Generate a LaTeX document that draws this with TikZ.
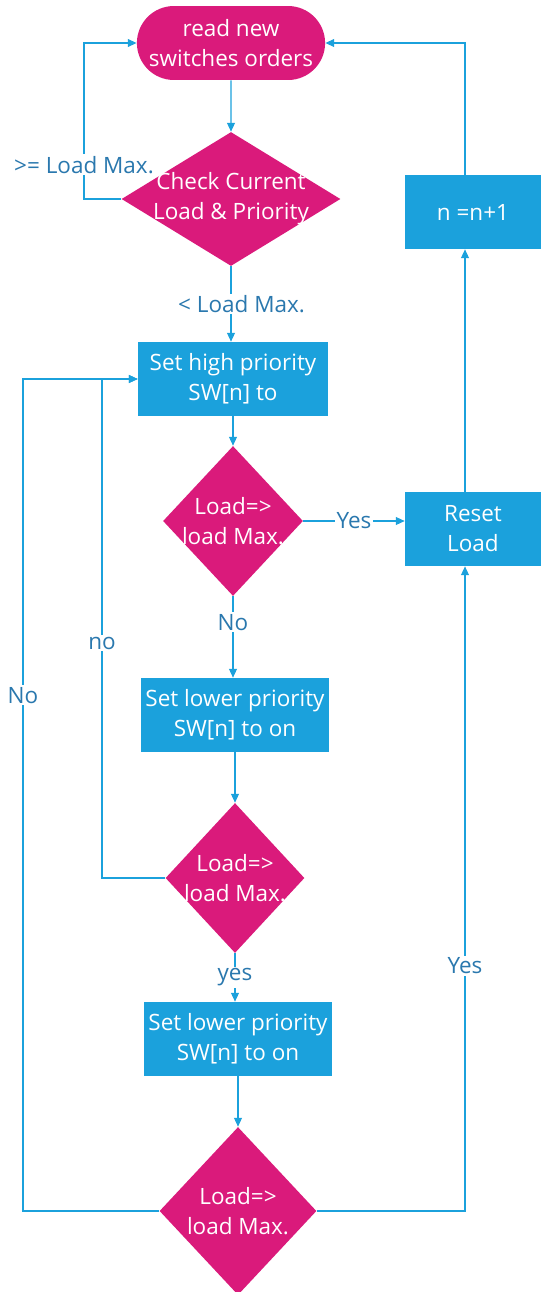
\documentclass[tikz,border=0pt]{standalone}
\usepackage{fontspec}
\setmainfont{Open Sans}
\usetikzlibrary{shapes.geometric,shapes.misc,arrows.meta}
\definecolor{mag}{HTML}{DA1A7B}
\definecolor{sky}{HTML}{1BA1DC}
\definecolor{lbl}{HTML}{2A78AE}
\tikzset{
  every node/.style={font=\fontsize{12.8}{17}\selectfont},
  terminal/.style={rounded rectangle, fill=mag, text=white, align=center, minimum width=3.6cm, minimum height=1.48cm, inner xsep=2pt},
  decision/.style={diamond, fill=mag, inner sep=0pt},
  dtext/.style={text=white, align=center},
  process/.style={rectangle, fill=sky, text=white, align=center, minimum height=1.48cm, inner xsep=2pt},
  flow/.style={draw=sky, line width=0.6pt, -{Triangle[length=5pt,width=4.5pt]}},
  lab/.style={text=lbl, fill=white, inner sep=1pt}
}
\begin{document}
\begin{tikzpicture}[x=0.02cm, y=-0.02cm]
            \clip (0,0) rectangle (541,1292);
            \useasboundingbox (0,0) rectangle (541,1292);

            \node (read) at (231,43) [terminal] {read new\\switches orders};
            \node (check) at (231,199) [decision, minimum width=4.38cm, minimum height=2.68cm] {};
            \node (checkT) at (check) [dtext] {Check Current\\Load \& Priority};

            \node (high) at (233,379) [process, minimum width=3.8cm] {Set high priority\\SW[n] to};
            \node (load1) at (233,521) [decision, minimum width=2.8cm, minimum height=3.0cm] {};
            \node (load1T) at (load1) [dtext] {Load=>\\load Max.};

            \node (low1) at (235,715) [process, minimum width=3.78cm] {Set lower priority\\SW[n] to on};
            \node (load2) at (235,878) [decision, minimum width=2.78cm, minimum height=3.0cm] {};
            \node (load2T) at (load2) [dtext] {Load=>\\load Max.};

            \node (low2) at (238,1039) [process, minimum width=3.76cm] {Set lower priority\\SW[n] to on};
            \node (load3) at (238,1211) [decision, minimum width=3.14cm, minimum height=3.36cm] {};
            \node (load3T) at (load3) [dtext] {Load=>\\load Max.};

            \node (reset) at (473,529) [process, minimum width=2.72cm] {Reset\\Load};
            \node (incr) at (473,212) [process, minimum width=2.72cm] {n =n+1};
            \coordinate (rcol) at (465,0);

            % main line
            \draw[flow] (read) -- (check);
            \draw[flow] (check) -- node[lab, pos=0.5, xshift=6pt] {< Load Max.} (check |- high.north);
            \draw[flow] (high) -- (load1);
            \draw[flow] (load1) -- node[lab, pos=0.32] {No} (load1 |- low1.north);
            \draw[flow] (low1) -- (load2);
            \draw[flow] (load2) -- node[lab, pos=0.5] {yes} (load2 |- low2.north);
            \draw[flow] (low2) -- (load3);

            % back loops
            \draw[flow] (check.west) -- (84,199) -- node[lab, pos=0.22] {>= Load Max.} (84,43) -- (read.west);
            \draw[flow] (load2.west) -- (102,878) -- node[lab, pos=0.47] {no} (102,379) -- (high.west);
            \draw[flow] (load3.west) -- (23,1211) -- node[lab, pos=0.62] {No} (23,379) -- (high.west);

            % right side
            \draw[flow] (load1.east) -- node[lab] {Yes} (reset.west |- load1.east);
            \draw[flow] (load3.east) -- (rcol |- load3.east) -- node[lab, pos=0.38] {Yes} (rcol |- reset.south);
            \draw[flow] (rcol |- reset.north) -- (rcol |- incr.south);
            \draw[flow] (rcol |- incr.north) -- (465,43) -- (read.east);
        \end{tikzpicture}
\end{document}
